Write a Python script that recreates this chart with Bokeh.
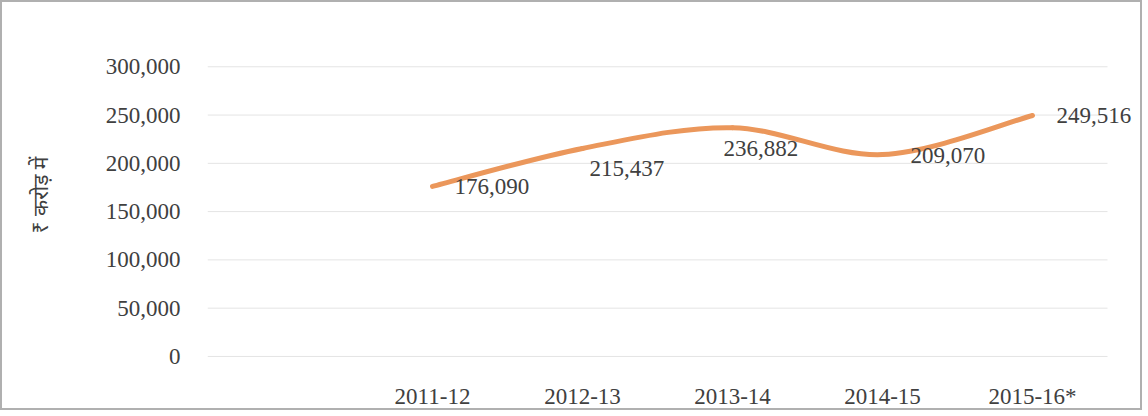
from bokeh.plotting import figure
from bokeh.models import FixedTicker, NumeralTickFormatter, Range1d, Label
from bokeh.embed import file_html
from bokeh.resources import INLINE

# ---- data ----
years = ["2011-12", "2012-13", "2013-14", "2014-15", "2015-16*"]
revenue = [176090, 215437, 236882, 209070, 249516]
y_ticks = [0, 50000, 100000, 150000, 200000, 250000, 300000]
y_label = "₹ करोड़ में"

# category slots: one empty slot before the first year, six slots in all
n_slots = 6
xs = [i + 1.5 for i in range(len(years))]

TEXT = "#404040"
SERIF = "Liberation Serif"

p = figure(width=1142, height=410, output_backend="svg", toolbar_location=None,
           x_range=Range1d(0, 6.22), y_range=Range1d(-15600, 350000),
           min_border_left=205, min_border_right=4, min_border_top=16, min_border_bottom=41)
p.styles = {"border": "2px solid #b0b0b0"}
p.outline_line_color = None
p.background_fill_color = "white"
p.border_fill_color = "white"

# axes
p.xaxis.ticker = FixedTicker(ticks=xs)
p.xaxis.major_label_overrides = {x: y for x, y in zip(xs, years)}
p.yaxis.ticker = FixedTicker(ticks=y_ticks)
p.yaxis.formatter = NumeralTickFormatter(format="0,0")
for ax in (p.xaxis[0], p.yaxis[0]):
    ax.axis_line_color = None
    ax.major_tick_line_color = None
    ax.minor_tick_line_color = None
    ax.major_label_text_font = SERIF
    ax.major_label_text_font_size = "23px"
    ax.major_label_text_color = TEXT
p.xaxis.major_label_standoff = 6
p.yaxis.major_label_standoff = 21
p.yaxis.axis_label = y_label
p.yaxis.axis_label_text_font = "Noto Sans"
p.yaxis.axis_label_text_font_size = "21px"
p.yaxis.axis_label_text_font_style = "normal"
p.yaxis.axis_label_text_color = TEXT
p.yaxis.axis_label_standoff = 49

# horizontal gridlines spanning the category slots only
p.xgrid.grid_line_color = None
p.ygrid.grid_line_color = None
p.segment(x0=[0] * len(y_ticks), x1=[n_slots] * len(y_ticks), y0=y_ticks, y1=y_ticks,
          line_color="#e4e4e4", line_width=1)

# smoothed line drawn as cubic Bezier segments (Catmull-Rom control points)
n = len(xs)
x0, y0, x1, y1, cx0, cy0, cx1, cy1 = [], [], [], [], [], [], [], []
for i in range(n - 1):
    im1 = max(i - 1, 0)
    ip2 = min(i + 2, n - 1)
    x0.append(xs[i]); y0.append(revenue[i])
    x1.append(xs[i + 1]); y1.append(revenue[i + 1])
    cx0.append(xs[i] + (xs[i + 1] - xs[im1]) / 6)
    cy0.append(revenue[i] + (revenue[i + 1] - revenue[im1]) / 6)
    cx1.append(xs[i + 1] - (xs[ip2] - xs[i]) / 6)
    cy1.append(revenue[i + 1] - (revenue[ip2] - revenue[i]) / 6)
p.bezier(x0=x0, y0=y0, x1=x1, y1=y1, cx0=cx0, cy0=cy0, cx1=cx1, cy1=cy1,
         line_color="#EB975B", line_width=5, line_cap="round")

# data labels (offsets in screen pixels; positive dy = up)
label_dx = [22, 7, -9, 28, 24]
label_dy = [0, -20, -21, -1, 0]
for x, v, dx, dy in zip(xs, revenue, label_dx, label_dy):
    p.add_layout(Label(x=x, y=v, text=f"{v:,}", x_offset=dx, y_offset=dy,
                       text_font=SERIF, text_font_size="23px", text_color=TEXT,
                       text_align="left", text_baseline="middle"))

open("out.html", "w").write(file_html(p, INLINE))
